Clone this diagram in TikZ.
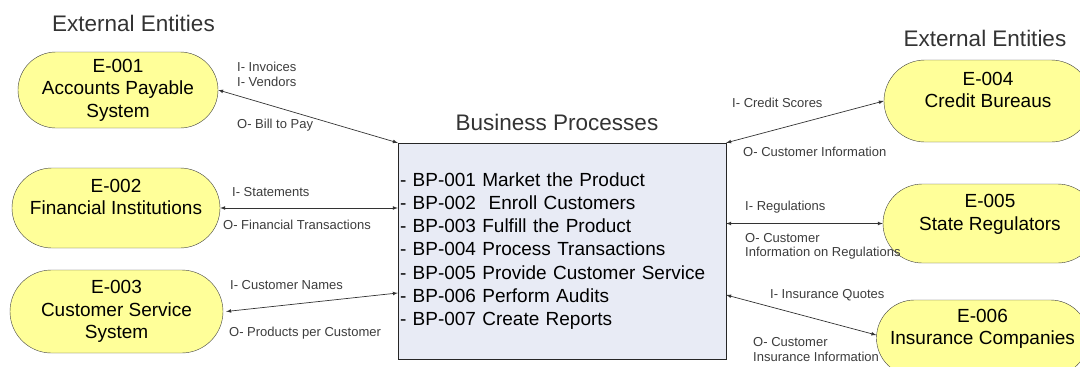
\documentclass[tikz,border=0pt]{standalone}
\usepackage{fontspec}
\setmainfont{Liberation Sans}
\usepackage{tikz}
\usetikzlibrary{arrows,shapes,shapes.misc,positioning}
\usepackage{xcolor}
\definecolor{entyellow}{RGB}{255,255,153}
\definecolor{bpfill}{RGB}{232,235,245}
\definecolor{hdgray}{RGB}{51,51,51}
\definecolor{lblgray}{RGB}{60,60,60}
\tikzstyle{entity} = [rounded rectangle,draw=black!75,fill=entyellow,thin,inner sep=0pt,align=center,font=\fontsize{19}{22.5}\selectfont]
\tikzstyle{flow} = [<->,>=latex,line width=0.7pt,color=black!80]
\tikzstyle{flowlbl} = [anchor=west,inner sep=0pt,align=left,text=lblgray,font=\fontsize{13}{14.5}\selectfont]
\tikzstyle{heading} = [inner sep=0pt,text=hdgray,font=\fontsize{22.5}{26}\selectfont]

\begin{document}
\begin{tikzpicture}[x=1pt,y=-1pt]
\useasboundingbox (0,0) rectangle (1080,367);
\clip (0,0) rectangle (1080,367);

% Headings
\node[heading] (hleft) at (133.5,23) {External Entities};
\node[heading] (hright) at (985,38) {External Entities};
\node[heading] (hmid) at (557,122) {Business Processes};

% Business processes
\node[draw=black!85,fill=bpfill,thin,text width=324pt,inner xsep=2pt,minimum height=216pt,align=left,
      font=\fontsize{19}{23.3}\selectfont] (bp) at (562,251)
  {- BP-001 Market the Product\\
   - BP-002 \ Enroll Customers\\
   - BP-003 Fulfill the Product\\
   - BP-004 Process Transactions\\
   - BP-005 Provide Customer Service\\
   - BP-006 Perform Audits\\
   - BP-007 Create Reports};

% Entities, left
\node[entity,minimum width=200pt,minimum height=76pt] (e1) at (118,90) {E-001\\Accounts Payable\\System};
\node[entity,minimum width=208pt,minimum height=80pt] (e2) at (116,208) {E-002\\Financial Institutions\\~};
\node[entity,minimum width=213pt,minimum height=83pt] (e3) at (116.5,311.5) {E-003\\Customer Service\\System};

% Entities, right
\node[entity,minimum width=208pt,minimum height=82pt] (e4) at (988,101) {E-004\\Credit Bureaus\\~};
\node[entity,minimum width=214pt,minimum height=79pt] (e5) at (990,223.5) {E-005\\State Regulators\\~};
\node[entity,minimum width=205pt,minimum height=76pt] (e6) at (982.5,338) {E-006\\Insurance Companies\\~};

% Flows
\draw[flow] (e1.east) -- (bp.north west);
\draw[flow] (e2.east) -- (bp.west |- e2.east);
\draw[flow] ([xshift=3pt]e3.east) -- ([yshift=-42pt]bp.west);
\draw[flow] (bp.north east) -- (e4.west);
\draw[flow] (bp.east |- e5.west) -- (e5.west);
\draw[flow] ([yshift=-44pt]bp.east) -- ([yshift=3pt]e6.west);

% Flow labels
\node[flowlbl] (l1a) at (237,74.5) {I- Invoices\\I- Vendors};
\node[flowlbl] (l1b) at (237,125) {O- Bill to Pay};
\node[flowlbl] (l2a) at (232,192) {I- Statements};
\node[flowlbl] (l2b) at (223,225) {O- Financial Transactions};
\node[flowlbl] (l3a) at (230,285) {I- Customer Names};
\node[flowlbl] (l3b) at (229,333) {O- Products per Customer};
\node[flowlbl] (l4a) at (732,103) {I- Credit Scores};
\node[flowlbl] (l4b) at (743,152) {O- Customer Information};
\node[flowlbl] (l5a) at (745,207) {I- Regulations};
\node[flowlbl] (l5b) at (745,246.5) {O- Customer\\Information on Regulations};
\node[flowlbl] (l6a) at (770,295) {I- Insurance Quotes};
\node[flowlbl] (l6b) at (753,349.5) {O- Customer\\Insurance Information};
\end{tikzpicture}
\end{document}
